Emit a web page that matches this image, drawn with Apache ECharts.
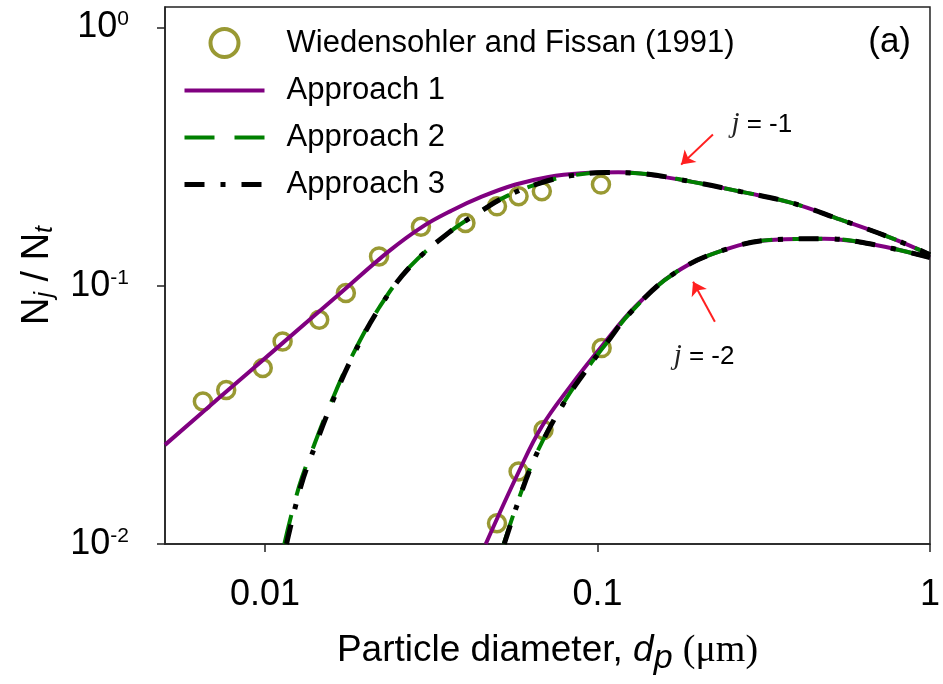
<!DOCTYPE html>
<html>
<head>
<meta charset="utf-8">
<title>Nj / Nt vs particle diameter</title>
<script src="https://cdn.jsdelivr.net/npm/echarts@6.0.0/dist/echarts.min.js"></script>
<style>
html, body { margin: 0; padding: 0; background: #fff; }
#main { width: 943px; height: 684px; }
</style>
</head>
<body>
<div id="main"></div>
<script>
// 实测数据 Wiedensohler and Fissan (1991)
var expDpJ1 = [0.0065, 0.00764, 0.00984, 0.01129, 0.01455, 0.0175, 0.02202, 0.02943, 0.04006, 0.04984, 0.05788, 0.06799, 0.1024];
var expNJ1 = [0.0356, 0.0395, 0.0480, 0.0608, 0.0738, 0.0937, 0.1299, 0.1693, 0.1750, 0.2029, 0.2219, 0.2320, 0.2463];
var expDpJ2 = [0.04984, 0.05788, 0.06879, 0.1029];
var expNJ2 = [0.01203, 0.01907, 0.02766, 0.05734];

// 三条曲线在右侧重合的部分
var tailDpJ1 = [0.1352, 0.1910, 0.2698, 0.3811, 0.5383, 0.7603, 1.0];
var tailNJ1 = [0.2717, 0.2530, 0.2313, 0.2098, 0.1802, 0.1535, 0.1319];
var tailDpJ2 = [0.1711, 0.2416, 0.3413, 0.4820, 0.6808, 1.0];
var tailNJ2 = [0.1123, 0.1379, 0.1508, 0.1521, 0.1441, 0.1284];

// Approach 1
var a1DpJ1 = [0.005, 0.00729, 0.01104, 0.01670, 0.02359, 0.02962, 0.03644, 0.04484, 0.05669, 0.07120, 0.08940, 0.1155];
var a1NJ1 = [0.0242, 0.0369, 0.0585, 0.0927, 0.1361, 0.1687, 0.1955, 0.2211, 0.2465, 0.2638, 0.2725, 0.2751];
var a1DpJ2 = [0.0461, 0.0579, 0.06785, 0.08345, 0.1027, 0.1298];
var a1NJ2 = [0.01, 0.0190, 0.0284, 0.0413, 0.0580, 0.0829];

// Approach 2
var a2DpJ1 = [0.01143, 0.01267, 0.01405, 0.01591, 0.01827, 0.02202, 0.02708, 0.03570, 0.04484, 0.05292, 0.06646, 0.08345, 0.1055];
var a2NJ1 = [0.01, 0.01678, 0.02419, 0.03614, 0.05354, 0.08216, 0.1174, 0.1605, 0.1953, 0.2213, 0.2485, 0.2669, 0.2742];
var a2DpJ2 = [0.0522, 0.06075, 0.06785, 0.08006, 0.09385, 0.1055, 0.1263];
var a2NJ2 = [0.01, 0.0177, 0.0246, 0.0361, 0.0485, 0.0591, 0.0793];

// Approach 3
var a3DpJ1 = [0.01160, 0.01282, 0.01418, 0.01603, 0.01838, 0.02210, 0.02712, 0.03570, 0.04484, 0.05292, 0.06646, 0.08345, 0.1055];
var a3NJ1 = [0.01, 0.01678, 0.02419, 0.03614, 0.05354, 0.08216, 0.1174, 0.1605, 0.1953, 0.2213, 0.2485, 0.2669, 0.2742];
var a3DpJ2 = [0.0524, 0.0609, 0.0680, 0.0802, 0.0940, 0.1056, 0.1263];
var a3NJ2 = [0.01, 0.0177, 0.0246, 0.0361, 0.0485, 0.0591, 0.0793];

var xTicks = [0.01, 0.1, 1];
var yTicks = [0.01, 0.1, 1];
var names = ['Wiedensohler and Fissan (1991)', 'Approach 1', 'Approach 2', 'Approach 3'];

// 箭头和 j 标注 (数据坐标)
var arrowJ1 = [[0.2224, 0.3848], [0.1784, 0.2944]];
var arrowJ2 = [[0.2254, 0.0725], [0.1938, 0.1036]];
var noteJ1 = [0.2519, 0.4207];
var noteJ2 = [0.1688, 0.0531];

function pairs(xs, ys) {
    return xs.map(function (x, i) { return [x, ys[i]]; });
}

var FONT = 'Liberation Sans';
var SERIF = 'Liberation Serif';

function curve(name, color, width, dash, data) {
    return {
        name: name,
        type: 'line',
        data: data,
        symbol: 'none',
        smooth: 0.4,
        silent: true,
        lineStyle: { color: color, width: width, type: dash, cap: 'butt' },
        itemStyle: { color: color },
        emphasis: { disabled: true }
    };
}

var myChart = echarts.init(document.getElementById('main'));

var option = {
    animation: false,
    backgroundColor: '#fff',
    grid: {
        left: 165, right: 10, top: 7, bottom: 140,
        show: true, borderColor: '#222', borderWidth: 1.5, backgroundColor: '#fff'
    },
    legend: {
        orient: 'vertical',
        left: 182,
        top: 27,
        padding: 0,
        itemWidth: 80,
        itemHeight: 28,
        itemGap: 16,
        selectedMode: false,
        textStyle: { fontSize: 31, fontFamily: FONT, color: '#000', lineHeight: 30, padding: [0, 0, 0, 17] },
        data: [
            { name: names[0], itemStyle: { borderWidth: 4 } },
            { name: names[1], lineStyle: { width: 4 }, itemStyle: { opacity: 0 } },
            { name: names[2], lineStyle: { width: 4 }, itemStyle: { opacity: 0 } },
            { name: names[3], lineStyle: { width: 5 }, itemStyle: { opacity: 0 } }
        ]
    },
    xAxis: {
        type: 'log',
        logBase: 10,
        min: 0.005,
        max: 1,
        name: '{a|Particle diameter, }{i|d}{p|p}{a| }{u|(μm)}',
        nameLocation: 'middle',
        nameGap: 82,
        nameTextStyle: {
            rich: {
                a: { fontSize: 37, fontFamily: FONT, color: '#000' },
                i: { fontSize: 37, fontFamily: FONT, fontStyle: 'italic', color: '#000' },
                p: { fontSize: 34, fontFamily: FONT, fontStyle: 'italic', color: '#000', padding: [16, 0, 0, 0] },
                u: { fontSize: 38, fontFamily: SERIF, color: '#000' }
            }
        },
        axisLine: { lineStyle: { color: '#222', width: 1.5 } },
        axisTick: { customValues: xTicks, length: 8, lineStyle: { color: '#222', width: 1.5 } },
        minorTick: { show: false },
        splitLine: { show: false },
        axisLabel: {
            customValues: xTicks,
            margin: 33,
            fontSize: 36,
            fontFamily: FONT,
            color: '#000',
            formatter: function (v) { return v >= 1 ? '1' : String(v); }
        }
    },
    yAxis: {
        type: 'log',
        logBase: 10,
        min: 0.01,
        max: 1.2,
        name: '{n|N}{s|j}{n| / N}{s|t}',
        nameLocation: 'middle',
        nameGap: 107,
        nameTextStyle: {
            rich: {
                n: { fontSize: 38, fontFamily: FONT, color: '#000' },
                s: { fontSize: 25, fontFamily: FONT, fontStyle: 'italic', color: '#000', padding: [16, 0, 0, 0] }
            }
        },
        axisLine: { lineStyle: { color: '#222', width: 1.5 } },
        axisTick: { customValues: yTicks, length: 8, lineStyle: { color: '#222', width: 1.5 } },
        minorTick: { show: false },
        splitLine: { show: false },
        axisLabel: {
            customValues: yTicks,
            margin: 36,
            formatter: function (v) {
                return '{b|10}{s|' + Math.round(Math.log10(v)) + '}';
            },
            rich: {
                b: { fontSize: 36, fontFamily: FONT, color: '#000' },
                s: { fontSize: 21, fontFamily: FONT, color: '#000', padding: [0, 0, 16, 0] }
            }
        }
    },
    graphic: [
        {
            type: 'text',
            right: 32,
            top: 25,
            style: { text: '(a)', font: '35px "Liberation Sans"', fill: '#000' }
        }
    ],
    series: [
        {
            name: names[0],
            type: 'scatter',
            data: pairs(expDpJ1, expNJ1),
            symbol: 'circle',
            symbolSize: 17,
            silent: true,
            itemStyle: { color: 'rgba(0,0,0,0)', borderColor: '#808000', borderWidth: 3.5 },
            emphasis: { disabled: true },
            markLine: {
                silent: true,
                symbol: ['none', 'arrow'],
                symbolSize: 13,
                label: { show: false },
                lineStyle: { color: '#ff2020', width: 2, type: 'solid' },
                data: [
                    [{ coord: arrowJ1[0] }, { coord: arrowJ1[1] }],
                    [{ coord: arrowJ2[0] }, { coord: arrowJ2[1] }]
                ]
            },
            markPoint: {
                silent: true,
                symbol: 'circle',
                symbolSize: 1,
                itemStyle: { color: 'rgba(0,0,0,0)', borderWidth: 0 },
                label: {
                    show: true,
                    position: 'right',
                    distance: 0,
                    formatter: function (p) { return '{j|j}{t| = ' + p.name + '}'; },
                    rich: {
                        j: { fontSize: 29, fontFamily: SERIF, fontStyle: 'italic', color: '#222' },
                        t: { fontSize: 26, fontFamily: FONT, color: '#000' }
                    }
                },
                data: [
                    { name: '-1', coord: noteJ1 },
                    { name: '-2', coord: noteJ2 }
                ]
            }
        },
        {
            name: names[0],
            type: 'scatter',
            data: pairs(expDpJ2, expNJ2),
            symbol: 'circle',
            symbolSize: 17,
            silent: true,
            itemStyle: { color: 'rgba(0,0,0,0)', borderColor: '#808000', borderWidth: 3.5 },
            emphasis: { disabled: true }
        },
        curve(names[1], '#800080', 4, 'solid', pairs(a1DpJ1.concat(tailDpJ1), a1NJ1.concat(tailNJ1))),
        curve(names[1], '#800080', 4, 'solid', pairs(a1DpJ2.concat(tailDpJ2), a1NJ2.concat(tailNJ2))),
        curve(names[2], '#008000', 4, [30, 20], pairs(a2DpJ1.concat(tailDpJ1), a2NJ1.concat(tailNJ1))),
        curve(names[2], '#008000', 4, [30, 20], pairs(a2DpJ2.concat(tailDpJ2), a2NJ2.concat(tailNJ2))),
        curve(names[3], '#000000', 5, [20, 16, 5, 16], pairs(a3DpJ1.concat(tailDpJ1), a3NJ1.concat(tailNJ1))),
        curve(names[3], '#000000', 5, [20, 16, 5, 16], pairs(a3DpJ2.concat(tailDpJ2), a3NJ2.concat(tailNJ2)))
    ]
};

myChart.setOption(option);
</script>
</body>
</html>
